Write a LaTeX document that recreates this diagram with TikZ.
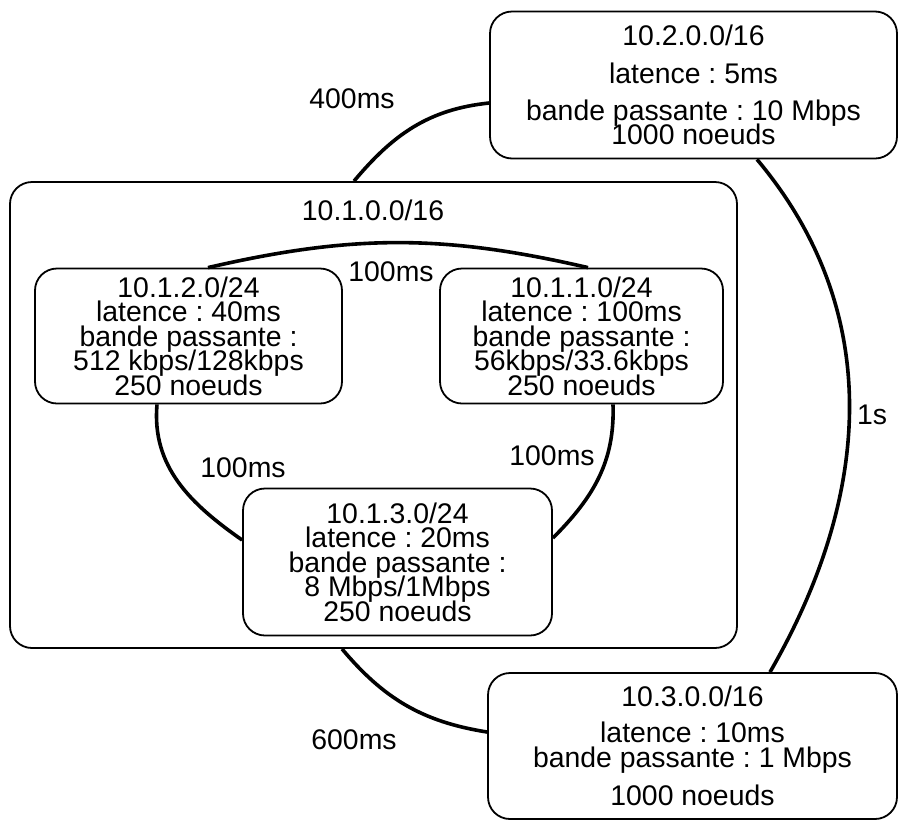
\documentclass[tikz,border=0pt]{standalone}
\usepackage{fontspec}
\setmainfont{Liberation Sans}
\usetikzlibrary{calc}

\newcommand\netfont{\fontsize{14.2}{12.25}\selectfont\frenchspacing\lineskiplimit=-50pt\relax}

\tikzset{
    netbox/.style={draw, line width=0.9pt, rounded corners=11pt, align=center, inner sep=0pt, font=\netfont},
    link/.style={line width=1.8pt},
    delay/.style={font=\netfont, inner sep=0pt}
}

\begin{document}
\begin{tikzpicture}[x=0.5pt,y=0.5pt]
    \useasboundingbox (0,0) rectangle (900,-820);

    % Define the centres of the networks
    \coordinate (N1) at (373.5,-415);
    \coordinate (N2) at (693.5,-85);
    \coordinate (N3) at (692.5,-746);
    \coordinate (S1) at (581.5,-336);
    \coordinate (S2) at (188.5,-336);
    \coordinate (S3) at (397.5,-562);

    % Draw the three networks
    \node (net1) at (N1) [netbox, minimum width=363.5pt, minimum height=233pt] {};
    \node (t1) at (373,-210) [font=\netfont, inner sep=0pt] {10.1.0.0/16};
    \node (net2) at (N2) [netbox, minimum width=203.5pt, minimum height=73.5pt]
        {10.2.0.0/16\\[6.75pt] latence : 5ms\\[6.25pt] bande passante : 10 Mbps\\ 1000 noeuds};
    \node (net3) at (N3) [netbox, minimum width=204.5pt, minimum height=73pt]
        {10.3.0.0/16\\[5.75pt] latence : 10ms\\ bande passante : 1 Mbps\\[6.75pt] 1000 noeuds};

    % Draw the subnets of 10.1.0.0/16
    \node (sub1) at (S1) [netbox, minimum width=141.5pt, minimum height=67.5pt]
        {10.1.1.0/24\\ latence : 100ms\\ bande passante :\\ 56kbps/33.6kbps\\ 250 noeuds};
    \node (sub2) at (S2) [netbox, minimum width=153.5pt, minimum height=67.5pt]
        {10.1.2.0/24\\ latence : 40ms\\ bande passante :\\ 512 kbps/128kbps\\ 250 noeuds};
    \node (sub3) at (S3) [netbox, minimum width=154.5pt, minimum height=73.5pt]
        {10.1.3.0/24\\ latence : 20ms\\ bande passante :\\ 8 Mbps/1Mbps\\ 250 noeuds};

    % Draw the links between networks
    \draw[link] ($(net1.north)+(-19.5,0)$) to[out=50,in=186] ($(net2.west)+(0,-18)$);
    \draw[link] ($(net2.south)+(63.5,0)$) to[out=-50,in=60] ($(net3.north)+(77.5,0)$);
    \draw[link] ($(net1.south)+(-31.5,0)$) to[out=-50,in=171] ($(net3.west)+(0,14)$);

    % Draw the links between subnets
    \draw[link] ($(sub2.north)+(19.5,0)$) to[out=13,in=167] ($(sub1.north)+(6.5,0)$);
    \draw[link] ($(sub2.south)+(-31.5,0)$) to[out=-95,in=145] ($(sub3.west)+(0,22)$);
    \draw[link] ($(sub1.south)+(31.5,0)$) to[out=-88,in=45] ($(sub3.east)+(0,24)$);

    % Place the delays
    \node (d400) at (352,-99) [delay] {400ms};
    \node (d1s) at (872,-415) [delay] {1s};
    \node (d600) at (354,-740) [delay] {600ms};
    \node (d12) at (391,-272) [delay] {100ms};
    \node (d23) at (243,-468) [delay] {100ms};
    \node (d13) at (552,-456) [delay] {100ms};

\end{tikzpicture}
\end{document}
